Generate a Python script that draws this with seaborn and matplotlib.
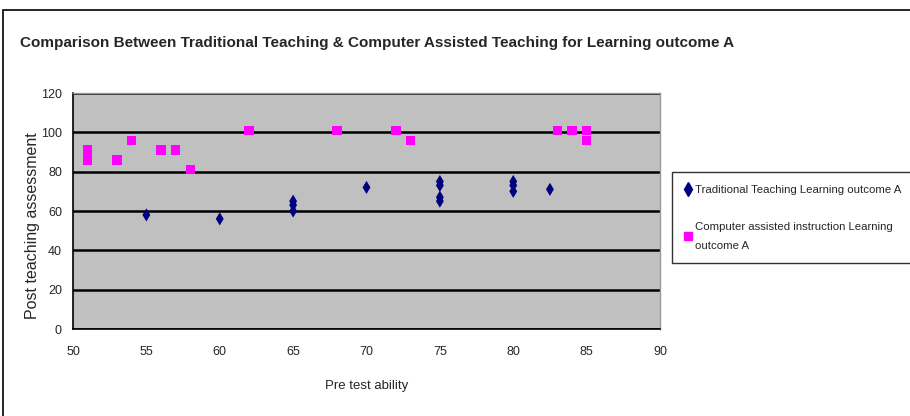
import pandas as pd
import matplotlib.pyplot as plt
import matplotlib.patches as mpatches
import seaborn as sns

# --- data ---
trad_x = [55, 60, 65, 65, 65, 70, 75, 75, 75, 75, 80, 80, 80, 82.5]
trad_y = [58, 56, 65, 63, 60, 72, 75, 73, 67, 65, 75, 73, 70, 71]
cai_x = [51, 51, 53, 54, 56, 57, 58, 62, 68, 72, 73, 83, 84, 85, 85]
cai_y = [91, 86, 86, 96, 91, 91, 81, 101, 101, 101, 96, 101, 101, 101, 96]

trad_label = "Traditional Teaching Learning outcome A"
cai_label = "Computer assisted instruction Learning\noutcome A"
title = "Comparison Between Traditional Teaching & Computer Assisted Teaching for Learning outcome A"

x_ticks = [50, 55, 60, 65, 70, 75, 80, 85, 90]
y_ticks = [0, 20, 40, 60, 80, 100, 120]

df = pd.concat([
    pd.DataFrame({"pre": trad_x, "post": trad_y, "group": trad_label}),
    pd.DataFrame({"pre": cai_x, "post": cai_y, "group": cai_label}),
])

sns.set_style("white")
plt.rcParams["font.family"] = ["Liberation Sans", "DejaVu Sans"]

fig = plt.figure(figsize=(9.1, 4.16), dpi=100)
ax = fig.add_axes([73 / 910, 1 - 329 / 416, 587 / 910, 236 / 416])
ax.set_facecolor("#C0C0C0")

# gridlines
ax.set_axisbelow(True)
ax.yaxis.grid(True, color="black", linewidth=1.8)

sns.scatterplot(
    data=df, x="pre", y="post", hue="group", style="group",
    palette={trad_label: "#000080", cai_label: "#FF00FF"},
    markers={trad_label: "d", cai_label: "s"},
    s=45, linewidth=0, ax=ax, legend=False, zorder=3,
)

ax.set_xlim(50, 90)
ax.set_ylim(0, 120)
ax.set_xticks(x_ticks)
ax.set_yticks(y_ticks)
ax.tick_params(axis="both", direction="out", length=4, width=1, color="black",
               labelsize=9, pad=4)
ax.tick_params(axis="x", pad=8)
ax.set_xlabel("Pre test ability", fontsize=9.5, labelpad=16)
ax.set_ylabel("Post teaching assessment", fontsize=11.5)
ax.yaxis.set_label_coords(-0.057, 0.44)

for side in ["left", "bottom"]:
    ax.spines[side].set_color("black")
    ax.spines[side].set_linewidth(1.2)
for side in ["top", "right"]:
    ax.spines[side].set_color("#9a9a9a")
    ax.spines[side].set_linewidth(1)

fig.text(20 / 910, 1 - 43 / 416, title, fontsize=11, fontweight="bold",
         va="center", ha="left")

# legend, reaching to the right edge as in the reference
handles = [
    plt.Line2D([], [], marker="d", color="#000080", linestyle="", markersize=7),
    plt.Line2D([], [], marker="s", color="#FF00FF", linestyle="", markersize=6),
]
leg = fig.legend(handles, [trad_label, cai_label], loc="upper left",
                 bbox_to_anchor=(672 / 910, 1 - 172 / 416), frameon=True,
                 fancybox=False, edgecolor="black", fontsize=8.2,
                 handlelength=0.6, handletextpad=0.3, labelspacing=2.4,
                 borderpad=1.1, borderaxespad=0)
leg.get_frame().set_linewidth(1)
leg.get_texts()[1].set_linespacing(2.1)

# chart area border
fig.patches.append(mpatches.Rectangle((3 / 910, -0.1), 1.2, 1 - 10 / 416 + 0.1,
                                      transform=fig.transFigure, fill=False,
                                      edgecolor="black", linewidth=1.2))

fig.savefig("out.png", dpi=100)
